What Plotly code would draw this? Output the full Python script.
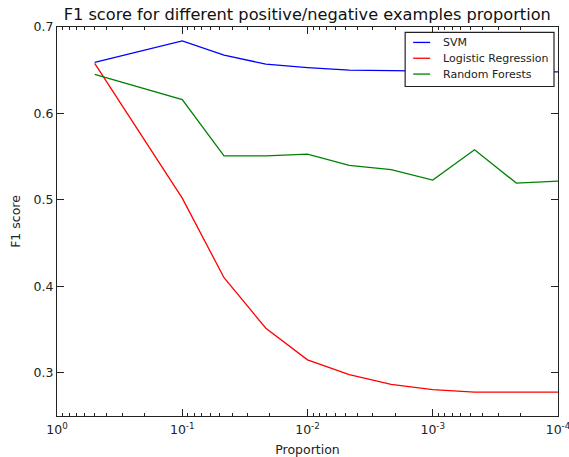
import plotly.graph_objects as go

proportion = [0.5, 0.1, 0.0464, 0.0215, 0.01, 0.00464, 0.00215, 0.001, 0.000464, 0.000215, 0.0001]
svm = [0.659, 0.684, 0.6675, 0.657, 0.653, 0.650, 0.6495, 0.649, 0.648, 0.648, 0.648]
logreg = [0.658, 0.502, 0.410, 0.3515, 0.315, 0.298, 0.2865, 0.2804, 0.2776, 0.2776, 0.2776]
rforest = [0.6453, 0.616, 0.551, 0.551, 0.553, 0.540, 0.535, 0.5229, 0.558, 0.5194, 0.5217]

series_names = ["SVM", "Logistic Regression", "Random Forests"]
series_colors = ["#0000ff", "#ff0000", "#008000"]

decades = [1, 0.1, 0.01, 0.001, 0.0001]
decade_labels = ["10<sup>0</sup>", "10<sup>-1</sup>", "10<sup>-2</sup>", "10<sup>-3</sup>", "10<sup>-4</sup>"]
minor_vals = [d * m / 10 for d in decades[:-1] for m in range(2, 10)]
y_ticks = [0.3, 0.4, 0.5, 0.6, 0.7]
y_labels = ["0.3", "0.4", "0.5", "0.6", "0.7"]

font = "DejaVu Sans, sans-serif"
W, H = 569, 457
ML, MR, MT, MB = 56.5, 11, 27.3, 41.3
PW, PH = W - ML - MR, H - MT - MB


def px(x):
    return (x - ML) / PW


def py(y):
    return (H - MB - y) / PH


fig = go.Figure()
for name, vals, col in zip(series_names, [svm, logreg, rforest], series_colors):
    fig.add_trace(go.Scatter(x=proportion, y=vals, mode="lines", name=name,
                             line=dict(color=col, width=1.3)))

# legend box (drawn to match the compact matplotlib legend)
shapes = [dict(type="rect", xref="paper", yref="paper",
               x0=px(405), x1=px(554), y0=py(86.7), y1=py(32.7),
               line=dict(color="#222222", width=1.2), fillcolor="white", layer="above")]
annotations = []
row_y = [42.7, 58.5, 74.3]
for name, col, ry in zip(series_names, series_colors, row_y):
    shapes.append(dict(type="line", xref="paper", yref="paper",
                       x0=px(413), x1=px(430), y0=py(ry), y1=py(ry),
                       line=dict(color=col, width=1.3), layer="above"))
    annotations.append(dict(xref="paper", yref="paper", x=px(441), y=py(ry),
                            xanchor="left", yanchor="middle", showarrow=False,
                            text=name, font=dict(size=11, family=font, color="#222222")))

fig.update_layout(
    width=W, height=H,
    margin=dict(l=ML, r=MR, t=MT, b=MB, autoexpand=False),
    paper_bgcolor="white", plot_bgcolor="white",
    font=dict(family=font, size=12.5, color="#222222"),
    title=dict(text="F1 score for different positive/negative examples proportion",
               x=0.54, xanchor="center", y=0.98, yanchor="top",
               font=dict(size=16.2, family=font, color="#111111")),
    showlegend=False,
    shapes=shapes,
    annotations=annotations,
    xaxis=dict(type="log", range=[0, -4], autorange=False, automargin=False,
               tickmode="array", tickvals=decades, ticktext=decade_labels,
               ticks="inside", ticklen=7, tickcolor="#222222",
               showline=True, linecolor="#222222", linewidth=1.3, mirror="ticks",
               showgrid=False, zeroline=False, ticklabeloverflow="allow",
               ticklabelstandoff=2,
               minor=dict(tickmode="array", tickvals=minor_vals, ticks="inside",
                          ticklen=3, tickcolor="#222222", showgrid=False),
               title=dict(text="Proportion", standoff=11, font=dict(size=12.5)),
               tickfont=dict(size=12.5)),
    yaxis=dict(range=[0.25, 0.7], autorange=False, automargin=False,
               tickmode="array", tickvals=y_ticks, ticktext=y_labels,
               ticks="inside", ticklen=7, tickcolor="#222222",
               showline=True, linecolor="#222222", linewidth=1.3, mirror="ticks",
               showgrid=False, zeroline=False,
               title=dict(text="F1 score", standoff=10, font=dict(size=12.5)),
               tickfont=dict(size=12.5)),
)

fig.write_html("out.html", config={"displayModeBar": False},
               post_script="document.body.style.margin='0';")
